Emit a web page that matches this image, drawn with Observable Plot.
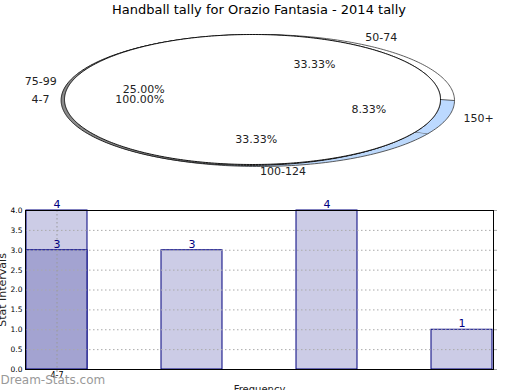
<!DOCTYPE html>
<html>
<head>
<meta charset="utf-8">
<script src="https://cdn.jsdelivr.net/npm/d3@7"></script>
<script src="https://cdn.jsdelivr.net/npm/@observablehq/plot@0.6"></script>
<style>
  html, body { margin: 0; padding: 0; background: #fff; }
  #root { position: relative; width: 520px; height: 390px; overflow: hidden; font-family: "DejaVu Sans", sans-serif; }
  #title { position: absolute; left: 0; top: 2px; width: 518px; text-align: center; font-size: 13px; color: #000; }
  #pie { position: absolute; left: 0; top: 0; }
  #bars { position: absolute; left: 0; top: 195px; }
</style>
</head>
<body>
<div id="root">
  <div id="pie"></div>
  <div id="bars"></div>
  <div id="title"></div>
</div>
<script>
// ---- data ----
const titleText = "Handball tally for Orazio Fantasia - 2014 tally";
const categories = ["50-74", "75-99", "100-124", "150+"];
const values = [4, 3, 4, 1];
const overlayCategory = "4-7";
const overlayValue = 3;
const yTicks = [0, 0.5, 1, 1.5, 2, 2.5, 3, 3.5, 4];
const xTickLabels = ["4-7"];
const yLabel = "Stat Intervals";
const xLabel = "Frequency";
const watermark = "Dream-Stats.com";

// ---- styles ----
const wallColors = {"50-74": "#ffffff", "75-99": "#d8d8d8", "100-124": "#bcd8fb", "150+": "#bcd9ff"};
const barLight = "#cccce6";
const barDark = "#a3a3d1";
const navy = "#00007f";

document.getElementById("title").textContent = titleText;

// ---- pie geometry (unit ellipse, mapped by Plot scales) ----
const total = d3.sum(values);
let cum = 0;
const slices = categories.map((c, i) => {
  const a0 = cum / total * 2 * Math.PI;
  cum += values[i];
  const a1 = cum / total * 2 * Math.PI;
  return {cat: c, v: values[i], a0, a1, mid: (a0 + a1) / 2, pct: (values[i] / total * 100).toFixed(2) + "%"};
});
const overlaySlice = {cat: overlayCategory, v: overlayValue, a0: 0, a1: 2 * Math.PI, mid: Math.PI,
  pct: (overlayValue / overlayValue * 100).toFixed(2) + "%"};

const RX = 188, RY = 65;
function wall(s, ox, oy, sx, sy) {
  const n = Math.max(8, Math.ceil((s.a1 - s.a0) / 0.02));
  const pts = [];
  for (let k = 0; k <= n; k++) {
    const t = s.a0 + (s.a1 - s.a0) * k / n;
    pts.push({cat: s.cat, x: ox + sx * Math.cos(t), y: oy - sy * Math.sin(t)});
  }
  for (let k = n; k >= 0; k--) {
    const t = s.a0 + (s.a1 - s.a0) * k / n;
    pts.push({cat: s.cat, x: Math.cos(t), y: -Math.sin(t)});
  }
  return pts;
}
const wallPts = slices.flatMap(s => wall(s, 6 / RX, 1 / RY, 196 / RX, 66 / RY));
const shadowPts = [];
{
  const n = 400;
  for (let k = 0; k <= n; k++) {
    const t = overlaySlice.a0 + (overlaySlice.a1 - overlaySlice.a0) * k / n;
    shadowPts.push({cat: overlaySlice.cat, x: -3 / RX + 1.002 * Math.cos(t), y: 0.8 / RY - 1.002 * Math.sin(t)});
  }
}
const topPts = [];
{
  const n = 400;
  for (let k = 0; k <= n; k++) {
    const t = 2 * Math.PI * k / n;
    topPts.push({x: Math.cos(t), y: -Math.sin(t)});
  }
}
const allSlices = [...slices, overlaySlice];
const labelPos = allSlices.map(s => ({
  cat: s.cat, pct: s.pct,
  lx: 0.04 + 1.12 * Math.cos(s.mid), ly: -1.1 * Math.sin(s.mid),
  px: 0.02 + 0.62 * Math.cos(s.mid), py: -0.62 * Math.sin(s.mid),
  right: Math.cos(s.mid) > -1e-9
}));

const pie = Plot.plot({
  width: 520, height: 190,
  margin: 0,
  x: {domain: [-1, 1], range: [252 - RX, 252 + RX], axis: null},
  y: {domain: [-1, 1], range: [99 - RY, 99 + RY], axis: null},
  style: {fontFamily: "DejaVu Sans, sans-serif", background: "transparent"},
  marks: [
    Plot.line(wallPts, {x: "x", y: "y", z: "cat", fill: d => wallColors[d.cat], stroke: "#333", strokeWidth: 0.8, curve: "linear"}),
    Plot.line(shadowPts, {x: "x", y: "y", z: "cat", fill: "#8a8a8a", stroke: "#222", strokeWidth: 1}),
    Plot.line(topPts, {x: "x", y: "y", fill: "#fff", stroke: "#000", strokeWidth: 0.9}),
    Plot.text(labelPos.filter(d => d.right), {x: "lx", y: "ly", text: "cat", textAnchor: "start", fontSize: 11, fill: "#222"}),
    Plot.text(labelPos.filter(d => !d.right), {x: "lx", y: "ly", text: "cat", textAnchor: "end", fontSize: 11, fill: "#222"}),
    Plot.text(labelPos, {x: "px", y: "py", text: "pct", fontSize: 11, fill: "#222"})
  ]
});
document.getElementById("pie").appendChild(pie);

// ---- bar chart ----
const barData = categories.map((c, i) => ({cat: c, v: values[i]}));
const overlayData = [{cat: categories[0], label: overlayCategory, v: overlayValue}];
const yMid = (yTicks[0] + yTicks[yTicks.length - 1]) / 2;

const bars = Plot.plot({
  width: 520, height: 195,
  marginTop: 15, marginBottom: 21, marginLeft: 25, marginRight: 27,
  style: {fontFamily: "DejaVu Sans, sans-serif", background: "transparent", overflow: "visible"},
  x: {type: "band", domain: categories, paddingInner: 0.55, paddingOuter: 0, align: 0.5},
  y: {domain: [0, 4]},
  marks: [
    Plot.barY(barData, {x: "cat", y: "v", fill: barLight, stroke: navy, strokeWidth: 1}),
    Plot.barY(overlayData, {x: "cat", y: "v", fill: barDark, stroke: navy, strokeWidth: 1}),
    Plot.ruleY(yTicks.slice(1), {stroke: "#aaa", strokeDasharray: "1.5,2.5", strokeWidth: 1}),
    Plot.ruleX([categories[0]], {stroke: "#999", strokeDasharray: "1.5,2.5", strokeWidth: 1}),
    Plot.axisY({ticks: yTicks, tickFormat: d => d.toFixed(1), tickSize: 0, tickPadding: 3, fontSize: 7.5, label: null}),
    Plot.axisY({anchor: "right", ticks: yTicks, tickFormat: () => "", tickSize: 3, stroke: "#aaa", label: null}),
    Plot.axisX({ticks: [categories[0]], tickFormat: () => xTickLabels[0], tickSize: 3, tickPadding: 0, stroke: "#999", fontSize: 8, label: null}),
    Plot.text(barData, {x: "cat", y: "v", text: d => String(d.v), dy: -6, fill: navy, fontSize: 11}),
    Plot.text(overlayData, {x: "cat", y: "v", text: d => String(d.v), dy: -6, fill: navy, fontSize: 11}),
    Plot.frame({stroke: "#000", strokeWidth: 1}),
    Plot.text([yLabel], {text: d => d, y: () => yMid, frameAnchor: "left", textAnchor: "middle", dx: -23, rotate: -90, fontSize: 11, fill: "#222"}),
    Plot.text([xLabel], {text: d => d, frameAnchor: "bottom", dy: 23, fontSize: 10, fill: "#222"}),
    Plot.text([watermark], {text: d => d, frameAnchor: "bottom-left", textAnchor: "start", dx: -25, dy: 14, fontSize: 12, fill: "#999"})
  ]
});
document.getElementById("bars").appendChild(bars);
</script>
</body>
</html>
